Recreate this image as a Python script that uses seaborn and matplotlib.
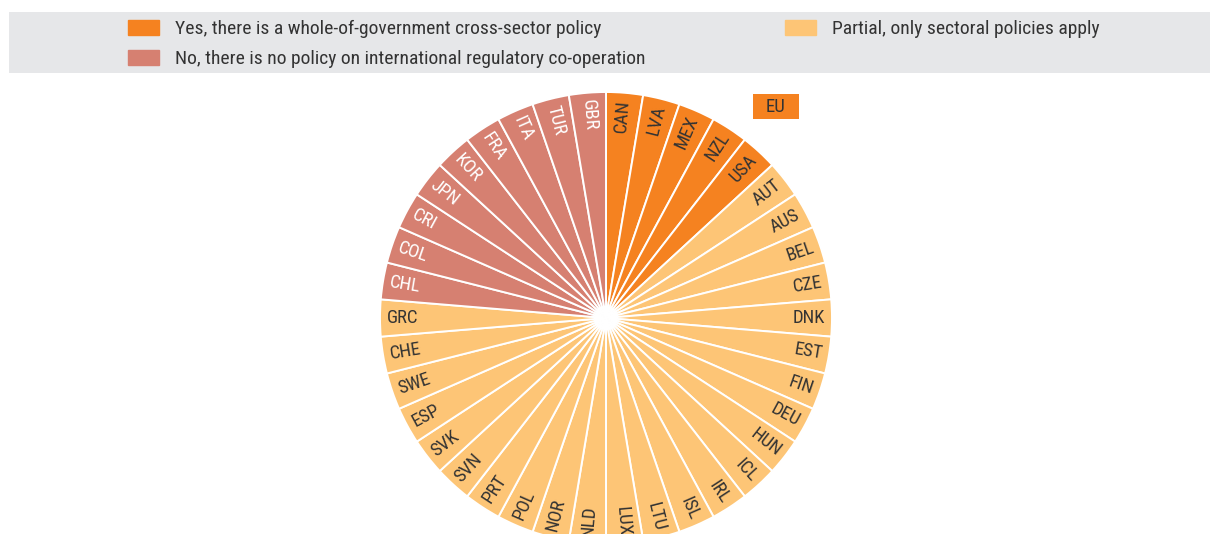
import matplotlib
matplotlib.use("Agg")
import matplotlib.pyplot as plt
import matplotlib.patches as mpatches
from matplotlib import font_manager
import numpy as np
import seaborn as sns

# categories (clockwise from 12 o'clock)
yes_countries = ["CAN", "LVA", "MEX", "NZL", "USA"]
partial_countries = ["AUT", "AUS", "BEL", "CZE", "DNK", "EST", "FIN", "DEU", "HUN",
                     "ICL", "IRL", "ISL", "LTU", "LUX", "NLD", "NOR", "POL", "PRT",
                     "SVN", "SVK", "ESP", "SWE", "CHE", "GRC"]
no_countries = ["CHL", "COL", "CRI", "JPN", "KOR", "FRA", "ITA", "TUR", "GBR"]

yes_label = "Yes, there is a whole-of-government cross-sector policy"
no_label = "No, there is no policy on international regulatory co-operation"
partial_label = "Partial, only sectoral policies apply"

c_yes = "#F58220"
c_partial = "#FDC576"
c_no = "#D68071"
text_dark = "#333333"

sns.set_theme(style="white")
# pick a narrow font if one is installed
installed = {f.name for f in font_manager.fontManager.ttflist}
main_font = "DejaVu Sans"
for fam in ["Liberation Sans Narrow", "Roboto Condensed", "Roboto"]:
    if fam in installed:
        main_font = fam
        break
plt.rcParams['font.family'] = [main_font, 'DejaVu Sans']
fs_leg = 14
fs_lab = 13.5

countries = yes_countries + partial_countries + no_countries
colors = [c_yes] * len(yes_countries) + [c_partial] * len(partial_countries) + [c_no] * len(no_countries)
txt_colors = [text_dark] * (len(yes_countries) + len(partial_countries)) + ["white"] * len(no_countries)
sizes = [1] * len(countries)

fig = plt.figure(figsize=(12.1, 5.34), dpi=100)

# legend background band
fig.add_artist(mpatches.Rectangle((9 / 1210, 1 - 73 / 534), 1201 / 1210, 61 / 534,
                                  transform=fig.transFigure, facecolor="#E6E7E9",
                                  edgecolor="none", zorder=0))

ax = fig.add_axes([380 / 1210, -10 / 534, 452 / 1210, 452 / 534])
wedges, _ = ax.pie(sizes, colors=colors, startangle=90, counterclock=False,
                   radius=1, wedgeprops=dict(edgecolor="white", linewidth=1.4))
ax.set_xlim(-1, 1)
ax.set_ylim(-1, 1)
ax.set_aspect("equal")
ax.axis("off")

# radial labels
for w, name, tc in zip(wedges, countries, txt_colors):
    ang = (w.theta1 + w.theta2) / 2
    r = 0.97
    x = r * np.cos(np.deg2rad(ang))
    y = r * np.sin(np.deg2rad(ang))
    a = (ang + 180) % 360 - 180
    if -90 <= a <= 90:
        rot, ha = a, "right"
    else:
        rot, ha = a + 180, "left"
    ax.text(x, y, name, rotation=rot, rotation_mode="anchor", ha=ha, va="center",
            fontsize=fs_lab, color=tc)

# legend
leg_kw = dict(frameon=False, loc="upper left", fontsize=fs_leg, handlelength=1.6,
              handleheight=0.78, handletextpad=0.82, labelspacing=0.62,
              labelcolor=text_dark, borderaxespad=0, borderpad=0)
fig.legend([mpatches.Patch(color=c_yes), mpatches.Patch(color=c_no)],
           [yes_label, no_label], bbox_to_anchor=(128 / 1210, 1 - 20 / 534), **leg_kw)
fig.legend([mpatches.Patch(color=c_partial)], [partial_label],
           bbox_to_anchor=(785 / 1210, 1 - 20 / 534), **leg_kw)

# EU box
fig.add_artist(mpatches.Rectangle((753 / 1210, 1 - 119 / 534), 46 / 1210, 25 / 534,
                                  transform=fig.transFigure, facecolor=c_yes,
                                  edgecolor="none"))
fig.text(776 / 1210, 1 - 106.5 / 534, "EU", ha="center", va="center",
         fontsize=fs_lab, color=text_dark)

plt.savefig("out.png", dpi=100)
